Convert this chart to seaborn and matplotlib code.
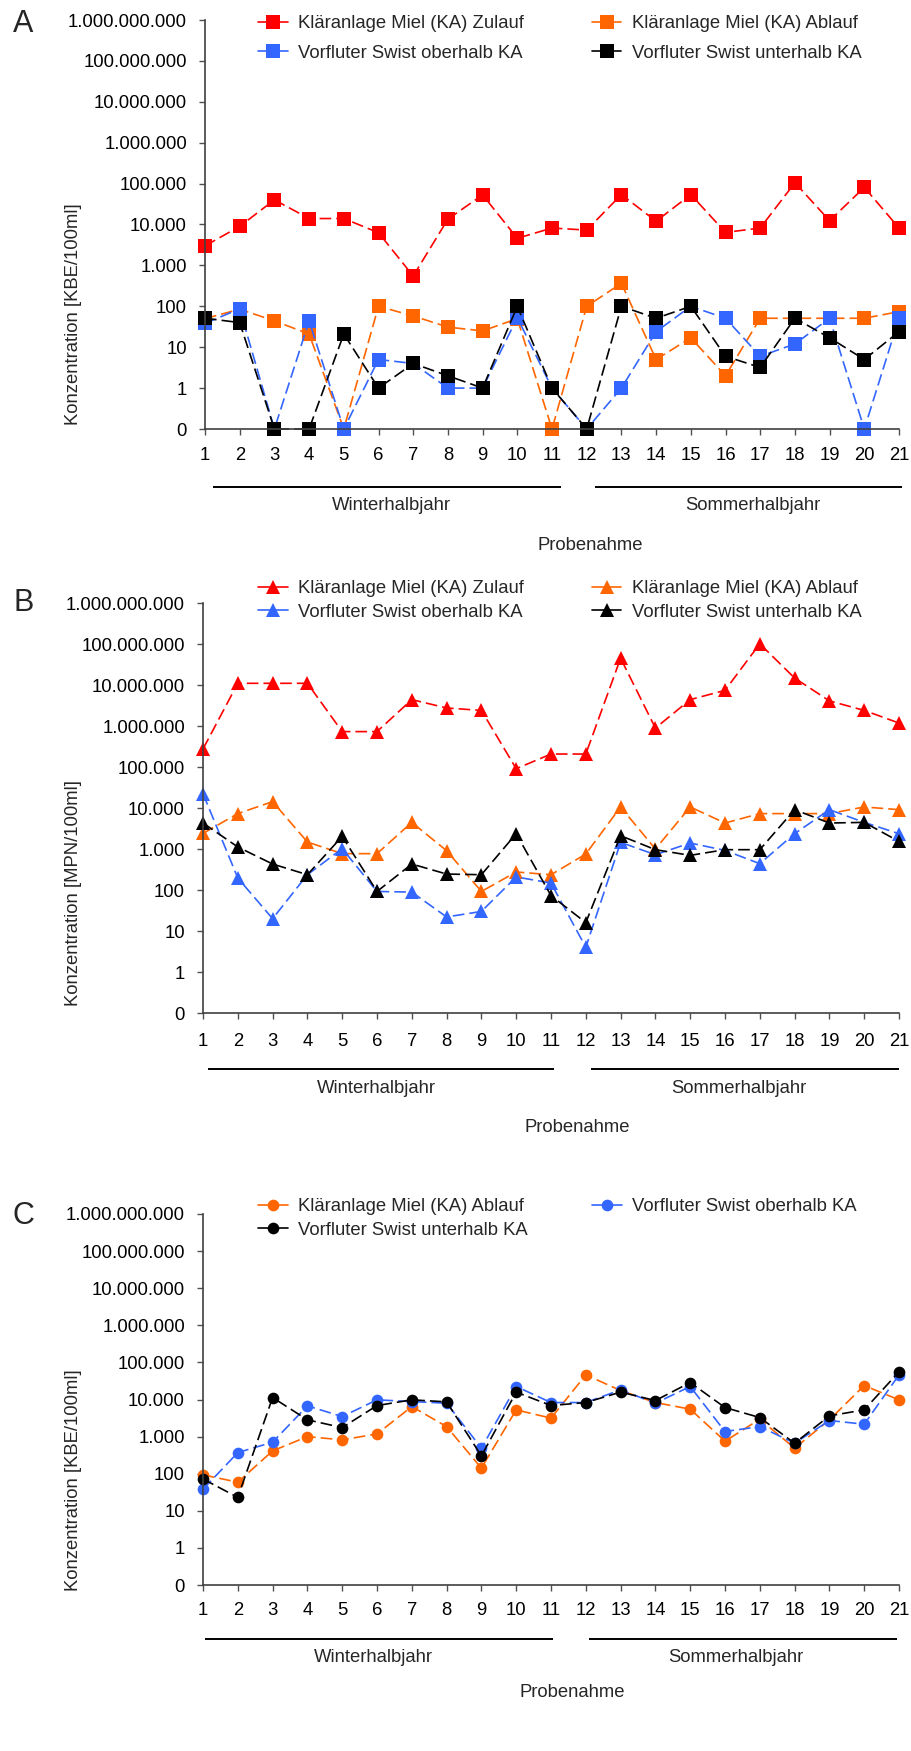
import numpy as np
import pandas as pd
import matplotlib
matplotlib.use("Agg")
import matplotlib.pyplot as plt
import seaborn as sns
from matplotlib.lines import Line2D
from matplotlib import transforms
from matplotlib.ticker import NullLocator

# ---------------------------------------------------------------- data
samples = list(range(1, 22))

series_names = [
    "Kläranlage Miel (KA) Zulauf",
    "Kläranlage Miel (KA) Ablauf",
    "Vorfluter Swist oberhalb KA",
    "Vorfluter Swist unterhalb KA",
]
colors = {
    "Kläranlage Miel (KA) Zulauf": "#FF0000",
    "Kläranlage Miel (KA) Ablauf": "#FF6600",
    "Vorfluter Swist oberhalb KA": "#3366FF",
    "Vorfluter Swist unterhalb KA": "#000000",
}

# Panel A  [KBE/100ml]
a_zulauf = [3000, 9000, 40000, 14000, 14000, 6300, 550, 13500, 53000, 4600, 8200,
            7300, 54000, 12000, 54000, 6400, 8200, 105000, 12400, 81000, 8200]
a_ablauf = [50, 85, 44, 21, 0, 100, 58, 31, 25, 50, 0,
            100, 365, 5, 17, 2, 51, 51, 51, 51, 74]
a_oberhalb = [38, 87, 0, 44, 0, 5, 4, 1, 1, 53, 1,
              0, 1, 24, 100, 51, 6, 12, 51, 0, 51]
a_unterhalb = [51, 40, 0, 0, 21, 1, 4, 2, 1, 100, 1,
               0, 100, 51, 100, 6, 3.2, 51, 17, 5, 24]

# Panel B  [MPN/100ml]
b_zulauf = [275000, 11000000, 11000000, 11000000, 730000, 730000, 4400000, 2750000,
            2400000, 91000, 207000, 207000, 45000000, 890000, 4400000, 7400000,
            101000000, 14800000, 4100000, 2400000, 1180000]
b_ablauf = [2400, 7300, 14300, 1480, 770, 770, 4460, 910, 92, 275, 236,
            755, 10600, 1000, 10600, 4300, 7300, 7300, 7300, 10600, 9100]
b_oberhalb = [22300, 196, 20, 236, 1020, 92, 89, 22, 30, 208, 148,
              4, 1450, 726, 1400, 925, 438, 2360, 9100, 4460, 2360]
b_unterhalb = [4300, 1120, 430, 236, 2030, 92, 430, 245, 236, 2360, 73,
               16, 2110, 962, 700, 962, 962, 9100, 4300, 4460, 1530]

# Panel C  [KBE/100ml]
c_ablauf = [93, 59, 412, 1000, 816, 1180, 6450, 1860, 141, 5260, 3140,
            46200, 17450, 8280, 5490, 752, 2950, 487, 2830, 23800, 9780]
c_oberhalb = [38, 371, 706, 6740, 3470, 9780, 8810, 7950, 487, 22400, 8280,
              8280, 18200, 7950, 22400, 1370, 1860, 664, 2710, 2160, 46000]
c_unterhalb = [72, 23, 11300, 2830, 1750, 6870, 9780, 8640, 302, 15800, 6870,
               8280, 15800, 9370, 28700, 6070, 3260, 664, 3620, 5260, 55700]

y_ticks = [0] + [10 ** k for k in range(10)]
y_ticklabels = [f"{v:,}".replace(",", ".") for v in y_ticks]

# ---------------------------------------------------------------- style
sns.set_theme(style="ticks")
plt.rcParams["font.family"] = ["Liberation Sans", "DejaVu Sans"]
FS = 13.3
plt.rcParams["font.size"] = FS

W, H = 911, 1751
fig = plt.figure(figsize=(W / 100, H / 100), dpi=100)


def px_axes(left, top, right, bottom):
    return fig.add_axes([left / W, 1 - bottom / H, (right - left) / W, (bottom - top) / H])


def long_frame(columns):
    frames = []
    for name, vals in columns:
        frames.append(pd.DataFrame({"Probe": samples, "Wert": vals, "Messstelle": name}))
    return pd.concat(frames, ignore_index=True)


def draw_panel(ax, columns, marker, msize, ylabel, cfg):
    df = long_frame(columns)
    order = [name for name, _ in columns]
    sns.lineplot(data=df, x="Probe", y="Wert", hue="Messstelle", hue_order=order,
                 palette=colors, marker=marker, markersize=msize, markeredgewidth=0,
                 linestyle=(0, (7, 3)), linewidth=1.2, legend=False, ax=ax,
                 clip_on=False, errorbar=None)

    ax.set_yscale("symlog", linthresh=1, linscale=0.9)
    ax.set_ylim(0, 1e9)
    ax.set_yticks(y_ticks)
    ax.set_yticklabels(y_ticklabels)
    ax.yaxis.set_minor_locator(NullLocator())
    ax.set_xlim(1, 21)
    ax.set_xticks(samples)
    ax.set_xticklabels([str(s) for s in samples])
    ax.set_xlabel("")
    ax.set_ylabel("")
    sns.despine(ax=ax)
    for side in ("left", "bottom"):
        ax.spines[side].set_color("#404040")
        ax.spines[side].set_linewidth(1.2)
    ax.tick_params(axis="both", direction="out", length=4, width=1, color="#505050",
                   labelsize=FS, labelcolor="black")
    ax.tick_params(axis="y", pad=9)
    ax.tick_params(axis="x", pad=cfg["xpad"])

    # season brackets and axis title below the tick labels
    base = ax.get_xaxis_transform()

    def off(px):
        return base + transforms.ScaledTranslation(0, -px / 100, fig.dpi_scale_trans)

    for (x0, x1) in cfg["season_lines"]:
        ax.plot([x0, x1], [0, 0], transform=off(cfg["line_off"]), color="black",
                lw=1.4, clip_on=False, solid_capstyle="butt")
    ax.text(cfg["winter_x"], 0, "Winterhalbjahr", transform=off(cfg["label_off"]),
            ha="center", va="center", fontsize=FS)
    ax.text(cfg["summer_x"], 0, "Sommerhalbjahr", transform=off(cfg["label_off"]),
            ha="center", va="center", fontsize=FS)
    ax.text(cfg["xlabel_x"], 0, "Probenahme", transform=off(cfg["xlabel_off"]),
            ha="center", va="center", fontsize=FS)

    # y axis title
    fig.text(73 / W, 1 - cfg["ylabel_y"] / H, ylabel, rotation=90,
             ha="center", va="center", fontsize=FS)

    # panel letter
    fig.text(13 / W, 1 - cfg["letter_y"] / H, cfg["letter"], ha="left",
             va="baseline", fontsize=22)

    # legend
    handles = []
    for name in cfg["legend_order"]:
        handles.append(Line2D([0], [0], color=colors[name], lw=1.2, marker=marker,
                              markersize=msize, markeredgewidth=0))
    ax.legend(handles, cfg["legend_order"], loc="upper left",
              bbox_to_anchor=(cfg["leg_x"] / W, 1 - cfg["leg_y"] / H),
              bbox_transform=fig.transFigure, ncol=2, frameon=False,
              fontsize=FS, handlelength=1.6, handletextpad=0.55,
              columnspacing=cfg["colspace"], labelspacing=cfg["labelspacing"],
              borderpad=0, borderaxespad=0)


# ---------------------------------------------------------------- panel A
axA = px_axes(205, 20, 899, 429)
draw_panel(
    axA,
    [(series_names[0], a_zulauf), (series_names[1], a_ablauf),
     (series_names[2], a_oberhalb), (series_names[3], a_unterhalb)],
    "s", 9.4, "Konzentration [KBE/100ml]",
    dict(xpad=9, line_off=58, label_off=76, xlabel_off=116,
         season_lines=[(1.23, 11.27), (12.23, 21.1)],
         winter_x=6.37, summer_x=16.8, xlabel_x=12.1,
         ylabel_y=314, letter="A", letter_y=32,
         legend_order=[series_names[0], series_names[2], series_names[1], series_names[3]],
         leg_x=258, leg_y=15, colspace=3.7, labelspacing=0.69),
)

# ---------------------------------------------------------------- panel B
axB = px_axes(203, 603, 899, 1013)
draw_panel(
    axB,
    [(series_names[0], b_zulauf), (series_names[1], b_ablauf),
     (series_names[2], b_oberhalb), (series_names[3], b_unterhalb)],
    "^", 9.5, "Konzentration [MPN/100ml]",
    dict(xpad=10.5, line_off=56, label_off=75, xlabel_off=114,
         season_lines=[(1.13, 11.1), (12.15, 21.0)],
         winter_x=5.98, summer_x=16.4, xlabel_x=11.76,
         ylabel_y=893, letter="B", letter_y=611,
         legend_order=[series_names[0], series_names[2], series_names[1], series_names[3]],
         leg_x=258, leg_y=580, colspace=3.7, labelspacing=0.36),
)

# ---------------------------------------------------------------- panel C
axC = px_axes(203, 1214, 899, 1585)
draw_panel(
    axC,
    [(series_names[1], c_ablauf), (series_names[2], c_oberhalb),
     (series_names[3], c_unterhalb)],
    "o", 8.4, "Konzentration [KBE/100ml]",
    dict(xpad=8.5, line_off=54, label_off=72, xlabel_off=107,
         season_lines=[(1.07, 11.07), (12.1, 20.94)],
         winter_x=5.9, summer_x=16.3, xlabel_x=11.6,
         ylabel_y=1480, letter="C", letter_y=1224,
         legend_order=[series_names[1], series_names[3], series_names[2]],
         leg_x=258, leg_y=1198, colspace=3.5, labelspacing=0.36),
)

fig.savefig("out.png", dpi=100)
